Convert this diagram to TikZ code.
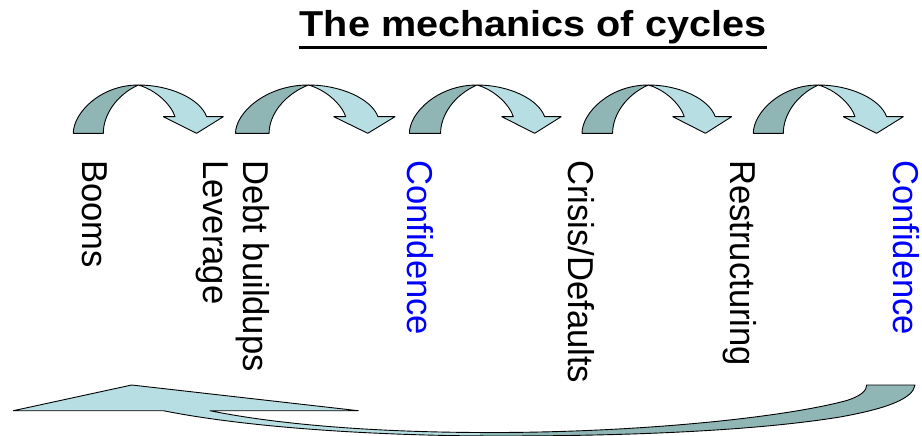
\documentclass[tikz,border=0pt]{standalone}
\usepackage{fontspec}
\setmainfont{Liberation Sans}
\definecolor{darkteal}{RGB}{143,181,181}
\definecolor{lightteal}{RGB}{183,223,227}
\definecolor{labelblue}{RGB}{0,0,255}
\def\bottompath{(13.3,410.7) -- (131.7,385) -- (358.3,410.7) -- (210,410.7)
  .. controls (290,427) and (400,433) .. (500,432.5)
  .. controls (640,432) and (780,418) .. (845,401)
  .. controls (862,396) and (866.7,390) .. (866.7,385)
  -- (915,385)
  .. controls (913,398) and (890,408) .. (840,417)
  .. controls (760,430) and (640,436) .. (500,436)
  .. controls (380,436) and (250,428) .. (163.3,410.7)
  -- cycle}
\def\darkband{(-65,48.3) .. controls (-65,28) and (-38,0) .. (0,0)
  .. controls (-22,10) and (-35,30) .. (-35,48.3) -- cycle}
\def\lightband{(0,0) .. controls (32,0) and (62,14) .. (68.3,31.7)
  -- (85,31.7) -- (58.3,48.3) -- (25,31.7) -- (36.7,31.7)
  .. controls (33,20) and (18,5) .. (0,0) -- cycle}
\newcommand\cyclearrow[3]{%
  \begin{scope}[shift={(#1,85)}]
    \begin{scope}[xscale=#2]
      \filldraw[outl, fill=darkteal] \darkband;
    \end{scope}
    \begin{scope}[xscale=#3]
      \filldraw[outl, fill=lightteal] \lightband;
    \end{scope}
  \end{scope}}
\begin{document}
\begin{tikzpicture}[x=1pt,y=-1pt,
  outl/.style={draw=black, line width=0.9pt, line join=round},
  lbl/.style={rotate=-90, anchor=base west, inner sep=0pt,
    font=\fontsize{34.6}{40}\selectfont}]
\useasboundingbox (0,0) rectangle (922,436);
% title
\node[inner sep=0pt, anchor=base] (title) at (533,36.7)
  {\bfseries\fontsize{36}{40}\selectfont\scalebox{1.1}[1]{The mechanics of cycles}};
\coordinate (ul) at (0,47.5);
\draw[line width=3.2pt] (title.west |- ul) -- (title.east |- ul);
% small curved arrows
\cyclearrow{138.3}{1}{1}
\cyclearrow{308.3}{1.12}{1.02}
\cyclearrow{477}{1.04}{0.99}
\cyclearrow{648.3}{1.02}{0.98}
\cyclearrow{818.3}{1}{1}
% labels
\node[lbl] (booms) at (82.5,160) {\scalebox{1}[1.04]{Booms}};
\node[lbl] (leverage) at (203,160) {\scalebox{1}[1.04]{Leverage}};
\node[lbl] (debt) at (243.5,160) {\scalebox{1}[1.04]{Debt buildups}};
\node[lbl, text=labelblue] (conf1) at (407.5,160) {\scalebox{1}[1.04]{Confidence}};
\node[lbl] (crisis) at (568.5,160) {\scalebox{1}[1.04]{Crisis/Defaults}};
\node[lbl] (restr) at (730.5,160) {\scalebox{1}[1.04]{Restructuring}};
\node[lbl, text=labelblue] (conf2) at (893.5,160) {\scalebox{1}[1.04]{Confidence}};
% big return arrow
\fill[lightteal] \bottompath;
\begin{scope}
  \clip (480,370) rectangle (922,436);
  \fill[darkteal] \bottompath;
\end{scope}
\draw[outl] \bottompath;
\end{tikzpicture}
\end{document}
